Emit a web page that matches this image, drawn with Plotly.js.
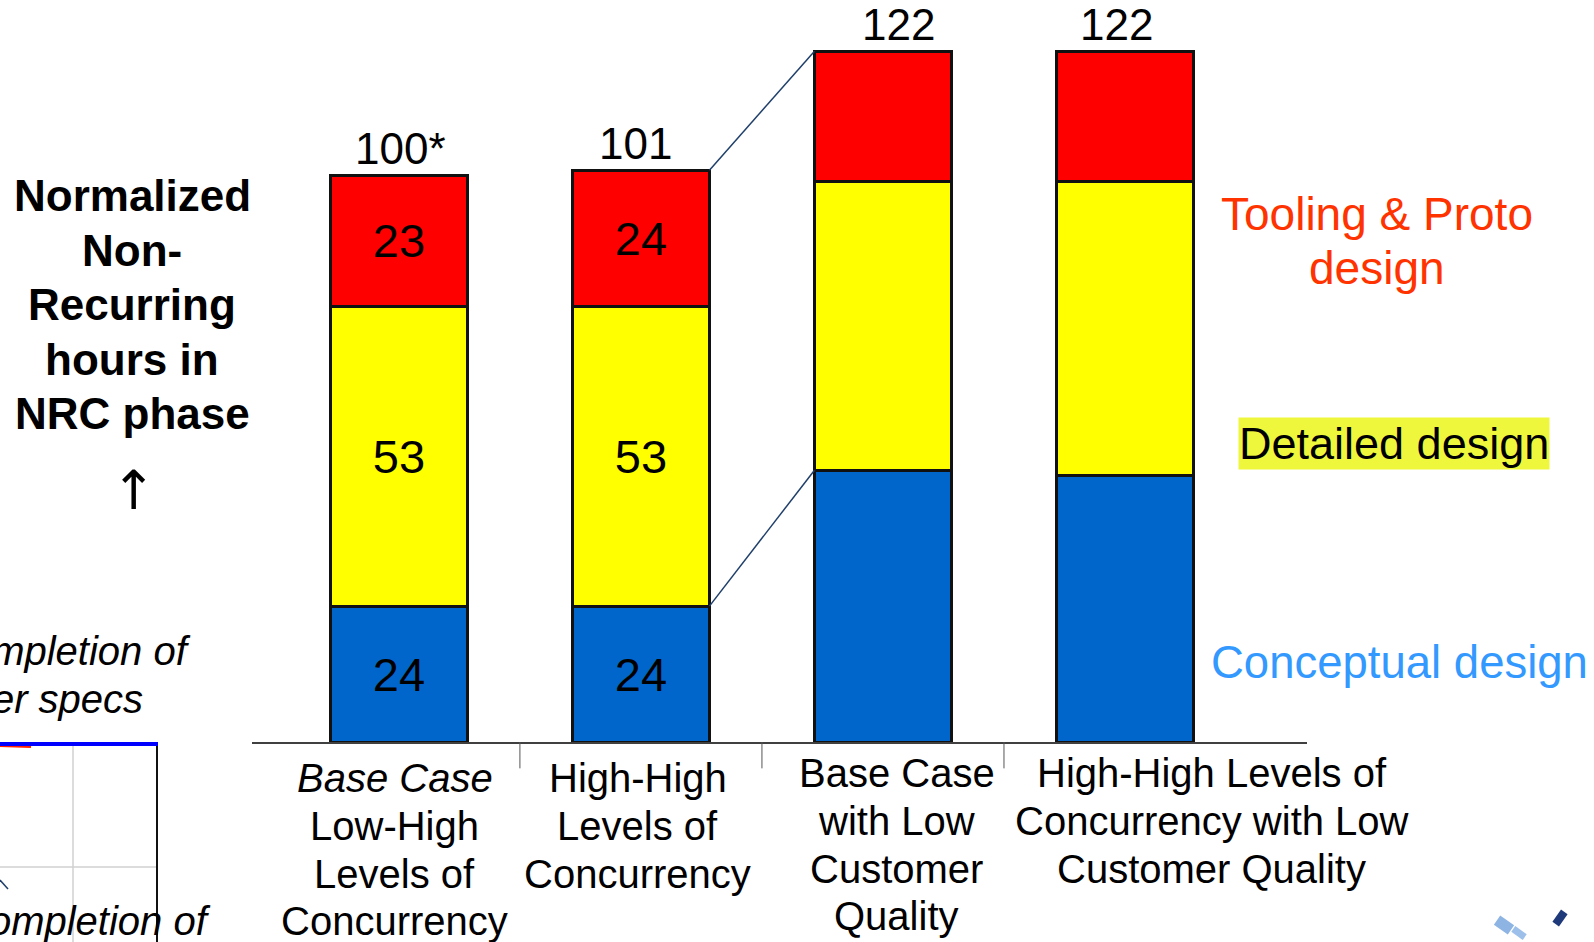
<!DOCTYPE html>
<html>
<head>
<meta charset="utf-8">
<script src="https://cdn.plot.ly/plotly-3.0.1.min.js"></script>
<style>
  html, body { margin: 0; padding: 0; background: #ffffff; }
  #chart { width: 1594px; height: 942px; }
</style>
</head>
<body>
<div id="chart"></div>
<script>
// Normalized non-recurring hours per scenario, split by design phase
const categories = [
  'Base Case Low-High Levels of Concurrency',
  'High-High Levels of Concurrency',
  'Base Case with Low Customer Quality',
  'High-High Levels of Concurrency with Low Customer Quality'
];
const categoryLabels = [
  ['<i>Base Case</i>', 'Low-High', 'Levels of', 'Concurrency'],
  ['High-High', 'Levels of', 'Concurrency'],
  ['Base Case', 'with Low', 'Customer', 'Quality'],
  ['High-High Levels of', 'Concurrency with Low', 'Customer Quality']
];
const conceptual = [24, 24, 48, 47];
const detailed = [53, 53, 51, 52];
const tooling = [23, 24, 23, 23];
const totalLabels = ['100*', '101', '122', '122'];
const segmentLabelShown = [true, true, false, false];

const FONT = 'Liberation Sans, Arial, Helvetica, sans-serif';
const totals = categories.map((_, i) => conceptual[i] + detailed[i] + tooling[i]);
const BAR_W = 0.566;

// plot-area geometry, used to place the free-standing decorations
const M = { l: 252, r: 287, t: 10, b: 200 };
const W = 1594, H = 942;
const PW = W - M.l - M.r, PH = H - M.t - M.b;
const px = x => (x - M.l) / PW;
const py = y => (H - M.b - y) / PH;

function segText(vals) {
  return vals.map((v, i) => segmentLabelShown[i] ? String(v) : '');
}

function barTrace(name, vals, color) {
  return {
    type: 'bar', name: name, x: categories, y: vals,
    width: BAR_W,
    marker: { color: color, line: { color: '#111111', width: 3 } },
    text: segText(vals), textposition: 'inside', insidetextanchor: 'middle',
    textangle: 0, constraintext: 'none',
    textfont: { family: FONT, size: 47, color: '#000000' },
    hoverinfo: 'none'
  };
}

const traces = [
  barTrace('Conceptual design', conceptual, '#0066CC'),
  barTrace('Detailed design', detailed, '#FFFF00'),
  barTrace('Tooling & Proto design', tooling, '#FF0000')
];

const annotations = [];

// multi-line text block with a fixed line pitch
function addLines(lines, base, firstY, pitch) {
  lines.forEach((t, k) => {
    annotations.push(Object.assign({}, base, {
      text: t, showarrow: false, yref: 'paper', y: py(firstY + k * pitch), yanchor: 'middle'
    }));
  });
}

// totals above each stack
const totalShift = [2, -5, 16, -8];
totals.forEach((t, i) => {
  annotations.push({
    xref: 'x', yref: 'y', x: i, y: t, yanchor: 'middle', yshift: 27,
    xshift: totalShift[i],
    text: totalLabels[i], showarrow: false,
    font: { family: FONT, size: 44, color: '#000000' }
  });
});

// scenario labels under the axis
const labelXShift = [-4, -3, 14, 87];
const labelTop = [778, 778, 773, 773];
categoryLabels.forEach((lines, i) => {
  addLines(lines, {
    xref: 'x', x: i, xanchor: 'center', xshift: labelXShift[i],
    font: { family: FONT, size: 40, color: '#000000' }
  }, labelTop[i], 47.8);
});

// y-axis caption on the left
addLines(['<b>Normalized</b>', '<b>Non-</b>', '<b>Recurring</b>', '<b>hours in</b>', '<b>NRC phase</b>'], {
  xref: 'paper', x: px(132), xanchor: 'center',
  font: { family: FONT, size: 44, color: '#000000' }
}, 196, 54.4);
annotations.push({
  xref: 'paper', yref: 'paper', x: px(133), y: py(490), xanchor: 'center', yanchor: 'middle',
  text: '\u2191', showarrow: false,
  font: { family: 'DejaVu Sans, ' + FONT, size: 54, color: '#000000' }
});

// phase captions on the right
addLines(['Tooling &amp; Proto', 'design'], {
  xref: 'paper', x: px(1377), xanchor: 'center',
  font: { family: FONT, size: 46, color: '#FF3300' }
}, 214, 54);
annotations.push({
  xref: 'paper', yref: 'paper', x: px(1394), y: py(443), xanchor: 'center', yanchor: 'middle',
  text: 'Detailed design', showarrow: false, bgcolor: '#EEF73C', borderpad: 0,
  font: { family: FONT, size: 45, color: '#000000' }
});
annotations.push({
  xref: 'paper', yref: 'paper', x: px(1399), y: py(662), xanchor: 'center', yanchor: 'middle',
  text: 'Conceptual design', showarrow: false,
  font: { family: FONT, size: 45.5, color: '#3399FF' }
});

// neighbouring panel at the lower left edge
annotations.push({
  xref: 'paper', yref: 'paper', x: px(193), y: py(651), xanchor: 'right', yanchor: 'middle',
  text: '<i>Completion of</i>', showarrow: false,
  font: { family: FONT, size: 40, color: '#000000' }
});
annotations.push({
  xref: 'paper', yref: 'paper', x: px(145), y: py(699), xanchor: 'right', yanchor: 'middle',
  text: '<i>customer specs</i>', showarrow: false,
  font: { family: FONT, size: 40, color: '#000000' }
});
annotations.push({
  xref: 'paper', yref: 'paper', x: px(213), y: py(921), xanchor: 'right', yanchor: 'middle',
  text: '<i>Completion of</i>', showarrow: false,
  font: { family: FONT, size: 40, color: '#000000' }
});

function rotRect(cx, cy, w, h, deg) {
  const a = deg * Math.PI / 180, c = Math.cos(a), s = Math.sin(a);
  const pts = [[-w / 2, -h / 2], [w / 2, -h / 2], [w / 2, h / 2], [-w / 2, h / 2]]
    .map(([dx, dy]) => [px(cx + dx * c - dy * s), py(cy + dx * s + dy * c)]);
  return 'M' + pts.map(p => p[0] + ',' + p[1]).join(' L') + ' Z';
}

const shapes = [];

// connectors from the second stack to the third
shapes.push({
  type: 'line', xref: 'x', yref: 'y',
  x0: 1 + BAR_W / 2, y0: totals[1], x1: 2 - BAR_W / 2, y1: totals[2],
  line: { color: '#1F3F6A', width: 1.5 }, layer: 'above'
});
shapes.push({
  type: 'line', xref: 'x', yref: 'y',
  x0: 1 + BAR_W / 2, y0: conceptual[1], x1: 2 - BAR_W / 2, y1: conceptual[2],
  line: { color: '#1F3F6A', width: 1.5 }, layer: 'above'
});

// dividers between scenarios
[0.5, 1.5, 2.5].forEach(b => {
  shapes.push({
    type: 'line', xref: 'x', yref: 'paper', x0: b, x1: b, y0: 0, y1: -0.036,
    line: { color: '#555555', width: 1 }
  });
});

// grid and frame of the neighbouring panel
shapes.push({ type: 'line', xref: 'paper', yref: 'paper', x0: px(73), x1: px(73), y0: py(746), y1: py(942), line: { color: '#D0D0D0', width: 1.5 } });
shapes.push({ type: 'line', xref: 'paper', yref: 'paper', x0: px(0), x1: px(157), y0: py(867), y1: py(867), line: { color: '#D0D0D0', width: 1.5 } });
shapes.push({ type: 'line', xref: 'paper', yref: 'paper', x0: px(157), x1: px(157), y0: py(744), y1: py(942), line: { color: '#111111', width: 2 } });
shapes.push({ type: 'line', xref: 'paper', yref: 'paper', x0: px(0), x1: px(31), y0: py(746), y1: py(747), line: { color: '#FF2000', width: 2 } });
shapes.push({ type: 'line', xref: 'paper', yref: 'paper', x0: px(0), x1: px(158), y0: py(744), y1: py(744), line: { color: '#0000FF', width: 4 } });
shapes.push({ type: 'line', xref: 'paper', yref: 'paper', x0: px(0), x1: px(8), y0: py(880), y1: py(889), line: { color: '#1F3F6A', width: 1.5 } });

// small logo marks in the lower right corner
shapes.push({ type: 'path', xref: 'paper', yref: 'paper', path: rotRect(1504, 925, 17, 11, 35), fillcolor: '#8EB4E3', line: { width: 0 } });
shapes.push({ type: 'path', xref: 'paper', yref: 'paper', path: rotRect(1519, 933, 14, 7, 35), fillcolor: '#9DC0EA', line: { width: 0 } });
shapes.push({ type: 'path', xref: 'paper', yref: 'paper', path: rotRect(1560, 918, 8, 15, 35), fillcolor: '#1F3A7A', line: { width: 0 } });

const layout = {
  width: W, height: H,
  margin: M,
  paper_bgcolor: '#ffffff', plot_bgcolor: '#ffffff',
  barmode: 'stack', showlegend: false,
  font: { family: FONT, color: '#000000' },
  xaxis: {
    type: 'category', range: [-0.607, 3.752],
    showline: true, linecolor: '#404040', linewidth: 1.5,
    showgrid: false, zeroline: false, showticklabels: false, ticks: '',
    fixedrange: true
  },
  yaxis: { range: [0, 129.3], visible: false, fixedrange: true },
  annotations: annotations,
  shapes: shapes
};

Plotly.newPlot('chart', traces, layout, { displayModeBar: false, staticPlot: true });
</script>
</body>
</html>
